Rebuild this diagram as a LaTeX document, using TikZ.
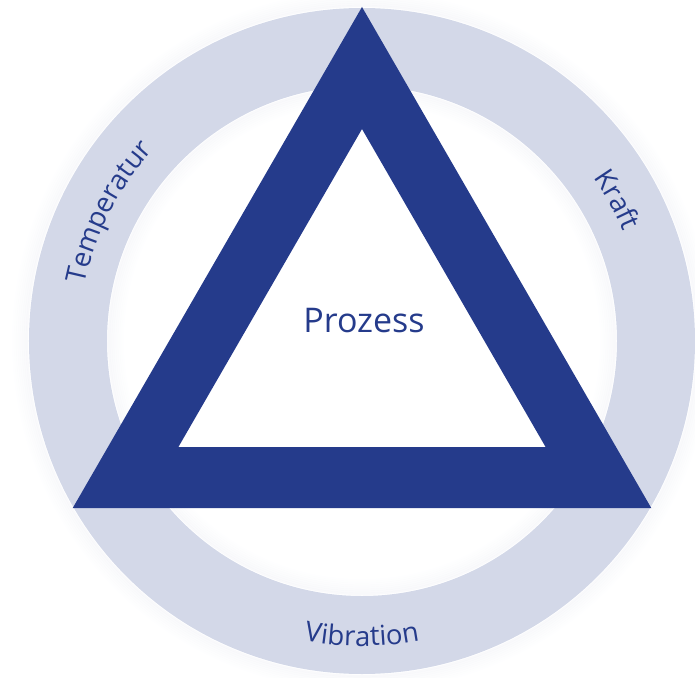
\documentclass[tikz,border=0pt]{standalone}
\usepackage{fontspec}
\setmainfont{Open Sans}
\usetikzlibrary{decorations.text}
\definecolor{prBlue}{RGB}{37,59,139}
\definecolor{prRing}{RGB}{211,216,232}
\definecolor{prHaze}{RGB}{186,192,214}
\tikzset{
  ringlabel/.style={decorate,
    decoration={text along path, text align=center, text color=prBlue,
      text={|\fontsize{27.5}{27.5}\selectfont|#1}}},
  halo/.style={draw=prHaze, line width=2.2}
}

\begin{document}
\begin{tikzpicture}[x=1pt,y=1pt]
  \useasboundingbox (-362,-336) rectangle (333,341);
  \coordinate (M) at (0,0);
  % soft edge on both sides of the ring
  \foreach \k in {1,...,9}{
    \draw[halo, opacity={0.10-0.011*\k}] (M) circle[radius=333+2*\k];
    \draw[halo, opacity={0.10-0.011*\k}] (M) circle[radius=255-2*\k];
  }
  \fill[prRing, even odd rule] (M) circle[radius=333] circle[radius=255];
  % outer and inner triangle corners
  \coordinate (T1) at (90:334);  \coordinate (T2) at (210:334);  \coordinate (T3) at (330:334);
  \coordinate (t1) at (90:212);  \coordinate (t2) at (210:212);  \coordinate (t3) at (330:212);
  \fill[prBlue, even odd rule] (T1)--(T2)--(T3)--cycle (t1)--(t2)--(t3)--cycle;
  \node[font=\fontsize{34}{34}\selectfont, text=prBlue] (prozess) at (2,20) {Prozess};
  \path[ringlabel=Temperatur] (173:283) arc[start angle=173, end angle=133, radius=283];
  \path[ringlabel=Kraft] (49:283) arc[start angle=49, end angle=9, radius=283];
  \path[ringlabel=Vibration] (-120:305) arc[start angle=-120, end angle=-60, radius=305];
\end{tikzpicture}
\end{document}
